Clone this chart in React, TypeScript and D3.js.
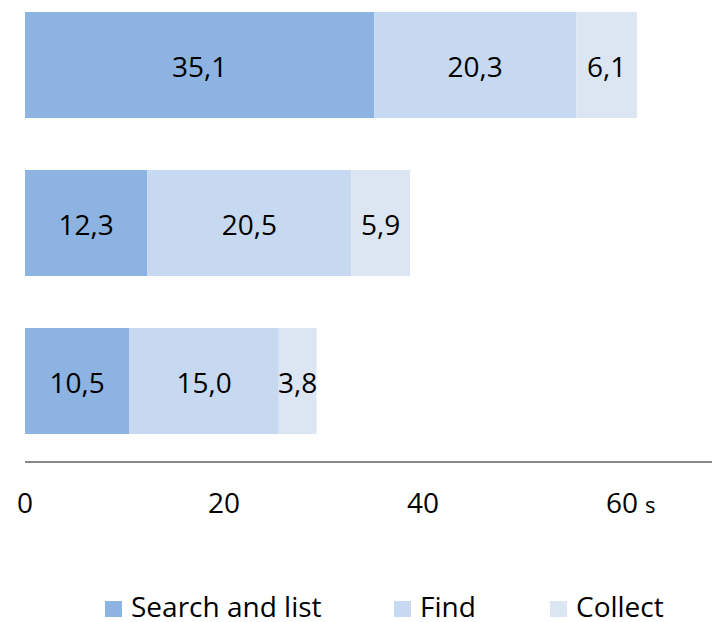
import React, { useEffect, useRef } from 'react'
import * as d3 from 'd3'

const rows = ['A', 'B', 'C']
const seriesNames = ['Search and list', 'Find', 'Collect']
const searchAndList = [35.1, 12.3, 10.5]
const find = [20.3, 20.5, 15.0]
const collect = [6.1, 5.9, 3.8]
const xTicks = [0, 20, 40, 60]
const colors = ['#8db3e2', '#c6d9f1', '#dce6f2']

const width = 712
const height = 622
const font = '"Open Sans", sans-serif'

const App = () => {
  const ref = useRef<SVGSVGElement>(null)

  useEffect(() => {
    const svg = d3.select(ref.current)
    svg.selectAll('*').remove()

    const x = d3.scaleLinear().domain([0, 60]).range([25, 622])
    const y = d3.scaleBand().domain(rows).range([-14, 460]).paddingInner(0.329).paddingOuter(0.1645)

    const table = rows.map((r, i) => ({ row: r, s0: searchAndList[i], s1: find[i], s2: collect[i] }))
    const stack = d3.stack<any>().keys(['s0', 's1', 's2'])(table)

    stack.forEach((layer, li) => {
      const g = svg.append('g')
      g.selectAll('rect')
        .data(layer)
        .enter()
        .append('rect')
        .attr('x', d => x(d[0]))
        .attr('y', d => y(d.data.row) || 0)
        .attr('width', d => x(d[1]) - x(d[0]))
        .attr('height', y.bandwidth())
        .attr('fill', colors[li])
      g.selectAll('text')
        .data(layer)
        .enter()
        .append('text')
        .attr('x', d => (x(d[0]) + x(d[1])) / 2)
        .attr('y', d => (y(d.data.row) || 0) + y.bandwidth() / 2)
        .attr('dy', 11.5)
        .attr('text-anchor', 'middle')
        .style('font-family', font)
        .style('font-size', '28px')
        .attr('fill', '#000')
        .text(d => d3.format('.1f')(d[1] - d[0]).replace('.', ','))
    })

    // axis line
    svg.append('line')
      .attr('x1', x(0)).attr('x2', width)
      .attr('y1', 462).attr('y2', 462)
      .attr('stroke', '#888').attr('stroke-width', 2)

    const ticks = svg.append('g')
    xTicks.forEach(t => {
      ticks.append('text')
        .attr('x', x(t))
        .attr('y', 513)
        .attr('text-anchor', 'middle')
        .style('font-family', font)
        .style('font-size', '28px')
        .text(String(t))
      if (t === 60) {
        ticks.append('text')
          .attr('x', x(t) + 23)
          .attr('y', 513)
          .style('font-family', font)
          .style('font-size', '22px')
          .text('s')
      }
    })

    const legendX = [105, 394, 550]
    const legend = svg.append('g')
    seriesNames.forEach((name, i) => {
      legend.append('rect')
        .attr('x', legendX[i]).attr('y', 601)
        .attr('width', 17).attr('height', 16)
        .attr('fill', colors[i])
      legend.append('text')
        .attr('x', legendX[i] + 26)
        .attr('y', 617)
        .style('font-family', font)
        .style('font-size', '28px')
        .text(name)
    })
  }, [])

  return <svg ref={ref} width={width} height={height} style={{ position: 'absolute', left: 0, top: 0 }} />
}

export default App
